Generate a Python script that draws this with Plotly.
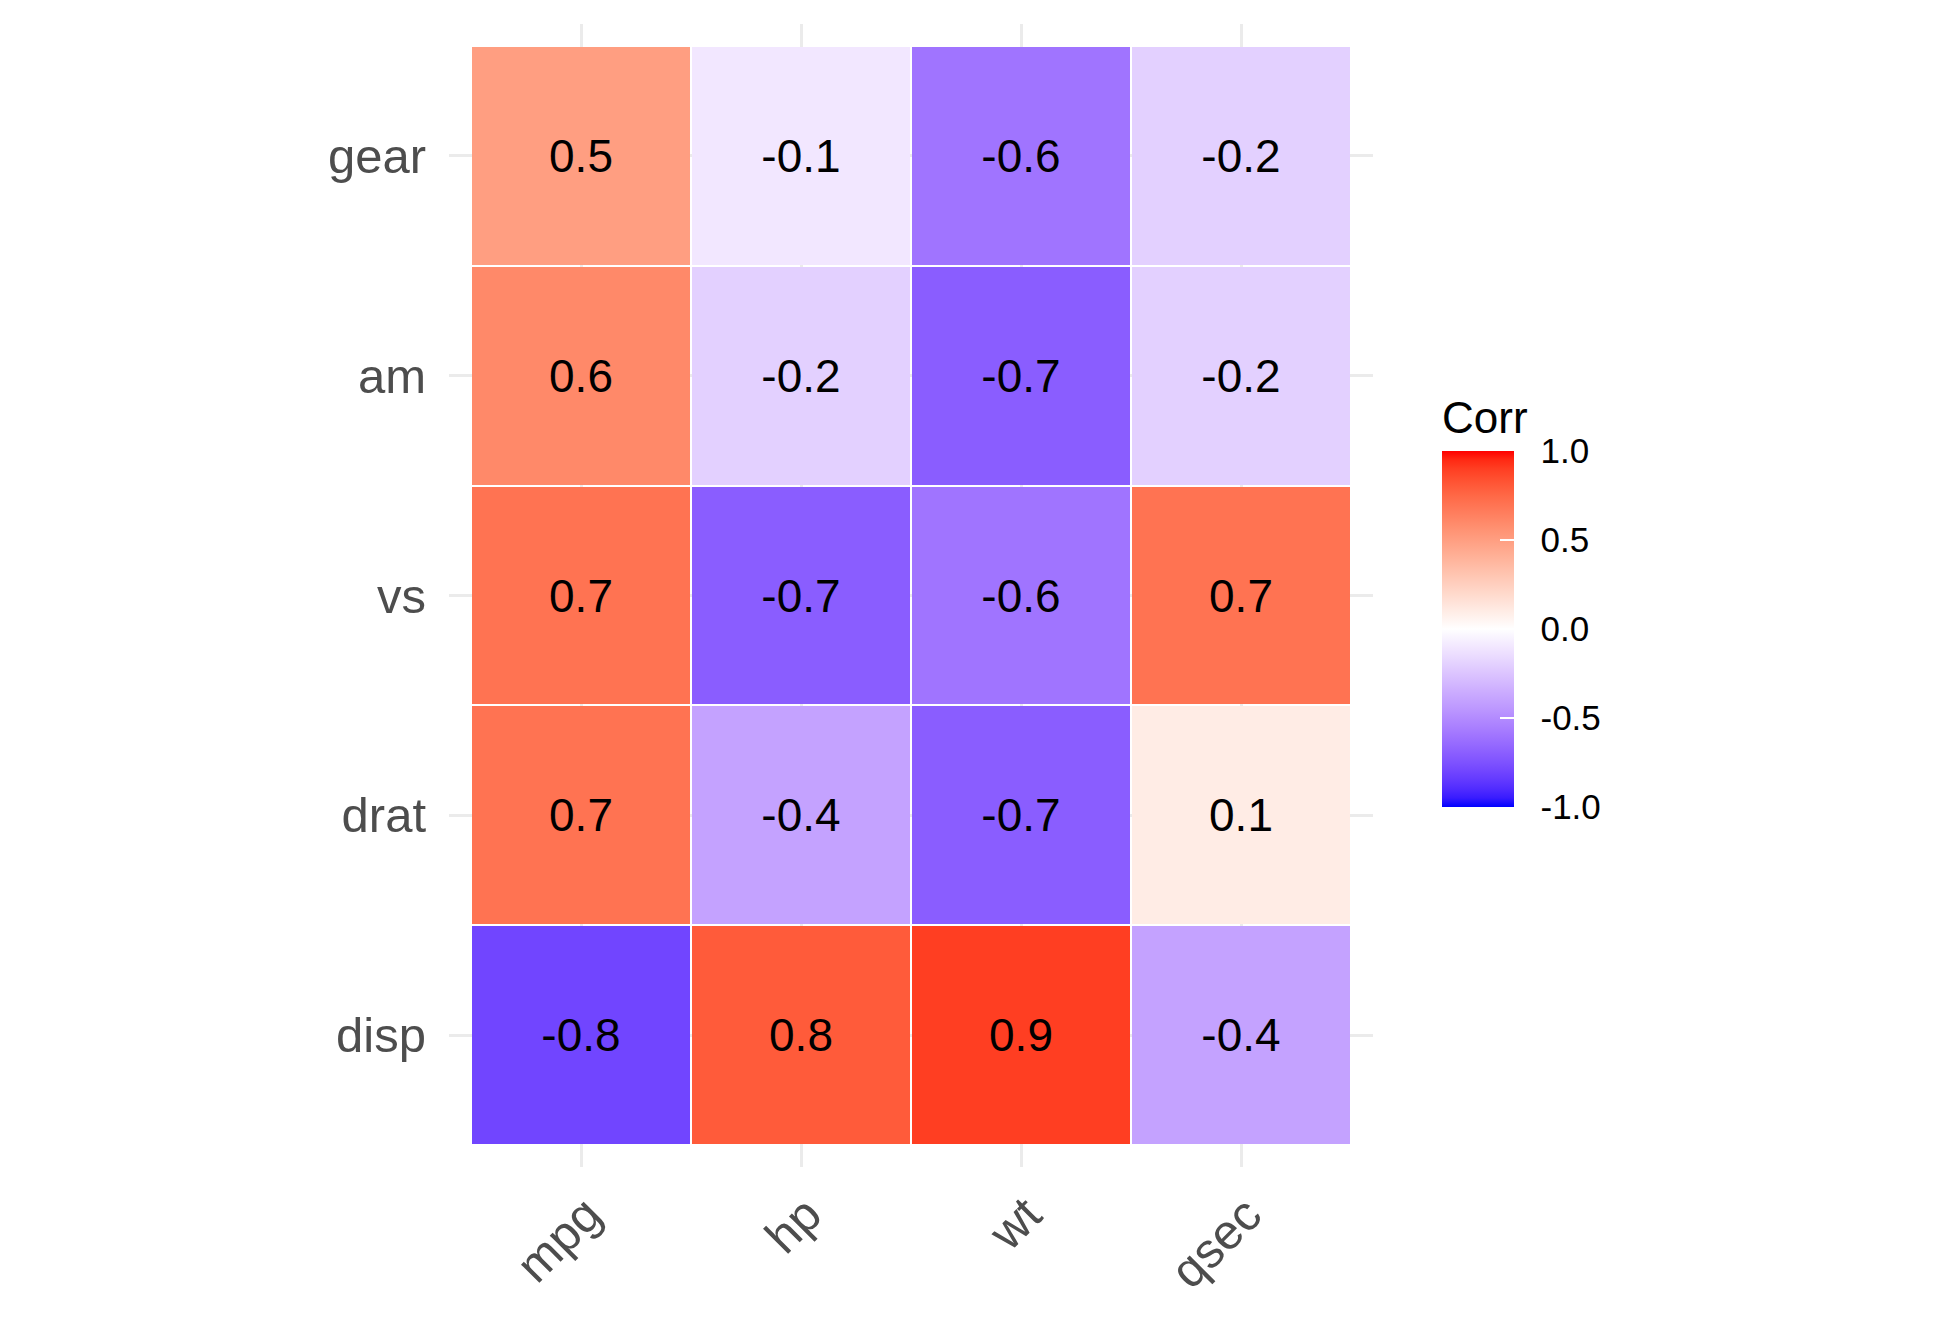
import numpy as np
import plotly.graph_objects as go

# ---- data ----
cols = ["mpg", "hp", "wt", "qsec"]
rows = ["disp", "drat", "vs", "am", "gear"]          # bottom -> top
mpg  = [-0.8, 0.7, 0.7, 0.6, 0.5]
hp   = [0.8, -0.4, -0.7, -0.2, -0.1]
wt   = [0.9, -0.7, -0.6, -0.7, -0.6]
qsec = [-0.4, 0.1, 0.7, -0.2, -0.2]
cbar_ticks = [-1.0, -0.5, 0.0, 0.5, 1.0]

z = np.array([mpg, hp, wt, qsec]).T  # rows x cols

# ---- Lab-space diverging colorscale (blue - white - red) ----
def srgb_to_lab(rgb):
    c = np.array(rgb, float) / 255.0
    c = np.where(c <= 0.04045, c / 12.92, ((c + 0.055) / 1.055) ** 2.4)
    M = np.array([[0.4124564, 0.3575761, 0.1804375],
                  [0.2126729, 0.7151522, 0.0721750],
                  [0.0193339, 0.1191920, 0.9503041]])
    xyz = M @ c
    wp = np.array([0.95047, 1.0, 1.08883])
    t = xyz / wp
    d = 6 / 29
    f = np.where(t > d ** 3, np.cbrt(t), t / (3 * d * d) + 4 / 29)
    return np.array([116 * f[1] - 16, 500 * (f[0] - f[1]), 200 * (f[1] - f[2])])

def lab_to_srgb(lab):
    L, a, b = lab
    fy = (L + 16) / 116
    fx = fy + a / 500
    fz = fy - b / 200
    d = 6 / 29
    def finv(t):
        return t ** 3 if t > d else 3 * d * d * (t - 4 / 29)
    wp = np.array([0.95047, 1.0, 1.08883])
    xyz = np.array([finv(fx), finv(fy), finv(fz)]) * wp
    Mi = np.array([[3.2404542, -1.5371385, -0.4985314],
                   [-0.9692660, 1.8760108, 0.0415560],
                   [0.0556434, -0.2040259, 1.0572252]])
    c = Mi @ xyz
    c = np.clip(c, 0, 1)
    c = np.where(c <= 0.0031308, 12.92 * c, 1.055 * c ** (1 / 2.4) - 0.055)
    return tuple(int(round(v * 255)) for v in np.clip(c, 0, 1))

low, mid, high = srgb_to_lab((0, 0, 255)), srgb_to_lab((255, 255, 255)), srgb_to_lab((255, 0, 0))
colorscale = []
n = 40
for i in range(n + 1):
    p = i / n
    if p <= 0.5:
        lab = low + (mid - low) * (p / 0.5)
    else:
        lab = mid + (high - mid) * ((p - 0.5) / 0.5)
    r, g, b = lab_to_srgb(lab)
    colorscale.append([p, f"rgb({r},{g},{b})"])

FONT = "Liberation Sans, Arial, Helvetica, sans-serif"

# ---- geometry (pixels) ----
W, H = 1950, 1320
pl, pr, pt, pb = 449, 1373, 24, 1167
cb_left, cb_top, cb_bot = 1442, 449, 807
title_h = 52
cb_len = cb_bot - cb_top + title_h
cb_x = (cb_left - pl) / (pr - pl)
cb_y = (pb - cb_bot) / (pb - pt)

def cbar(title_color, **kw):
    d = dict(
        title=dict(text="Corr", side="top", font=dict(family=FONT, size=44, color=title_color)),
        thickness=72, thicknessmode="pixels",
        len=cb_len, lenmode="pixels",
        x=cb_x, xanchor="left", y=cb_y, yanchor="bottom",
        xpad=0, ypad=0, outlinewidth=0,
        tickvals=cbar_ticks,
    )
    d.update(kw)
    return d

fig = go.Figure()
fig.add_trace(go.Heatmap(
    x=cols, y=rows, z=z, zmin=-1, zmax=1,
    colorscale=colorscale, xgap=2, ygap=2,
    texttemplate="%{z:.1f}",
    textfont=dict(family=FONT, size=46, color="black"),
    hoverinfo="skip",
    colorbar=cbar("black",
                  ticktext=[f"{v:.1f}" for v in cbar_ticks],
                  ticks="outside", ticklen=20, tickcolor="rgba(0,0,0,0)",
                  tickfont=dict(family=FONT, size=35, color="black")),
))
# overlay colorbar providing the white inner tick marks
fig.add_trace(go.Scatter(
    x=[None], y=[None], mode="markers", hoverinfo="skip", showlegend=False,
    marker=dict(color=[0], cmin=-1, cmax=1, colorscale=colorscale, showscale=True,
                colorbar=cbar("rgba(0,0,0,0)", showticklabels=False,
                              ticks="inside", ticklen=14, tickcolor="white", tickwidth=2)),
))

axis_common = dict(
    showgrid=True, gridcolor="#EBEBEB", gridwidth=3,
    zeroline=False, showline=False, ticks="",
    tickfont=dict(family=FONT, size=49, color="#4D4D4D"),
)
fig.update_layout(
    width=W, height=H,
    margin=dict(l=pl, r=W - pr, t=pt, b=H - pb, pad=0),
    paper_bgcolor="white", plot_bgcolor="white",
    xaxis=dict(type="category", categoryorder="array", categoryarray=cols,
               range=[-0.6, 3.6], tickangle=-45, ticklabelstandoff=8,
               ticklabelshift=6, **axis_common),
    yaxis=dict(type="category", categoryorder="array", categoryarray=rows,
               range=[-0.6, 4.6], ticklabelstandoff=22, **axis_common),
    showlegend=False,
)

fig.write_html("out.html", config={"displayModeBar": False},
               post_script="document.body.style.margin='0';")
